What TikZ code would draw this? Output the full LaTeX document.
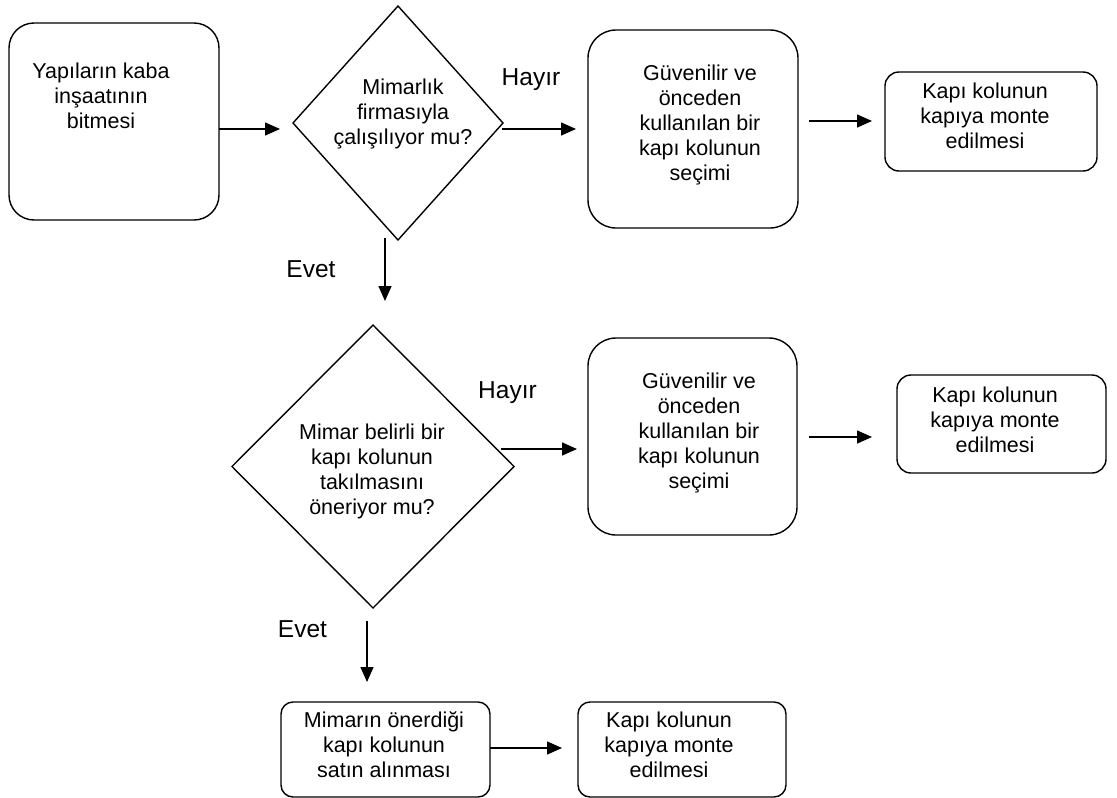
\documentclass[tikz,border=0pt]{standalone}
\usepackage{fontspec}
\setmainfont{Liberation Sans}
\usetikzlibrary{shapes.geometric,arrows.meta}

\tikzset{
  boxtext/.style={align=center, inner sep=0pt, font=\fontsize{21.5pt}{25pt}\selectfont},
  branchlabel/.style={anchor=base, inner sep=0pt, font=\fontsize{24.5pt}{28pt}\selectfont},
  stepbox/.style={draw, line width=1.4pt, rectangle, outer sep=0pt, inner sep=0pt},
  bigbox/.style={stepbox, rounded corners=28pt},
  smallbox/.style={stepbox, rounded corners=14pt},
  decision/.style={draw, line width=1.4pt, diamond, outer sep=0pt, inner sep=0pt},
  arr/.style={line width=1.5pt, -{Triangle[length=15pt,width=13pt]}}
}

\begin{document}
\begin{tikzpicture}[x=1pt, y=-1pt]
\useasboundingbox (0,0) rectangle (1117,798);

% first row
\node[bigbox, rounded corners=25pt, minimum width=210pt, minimum height=197pt] (start) at (114,121.5) {};
\node[boxtext] (starttext) at (101,95.75) {Yapıların kaba\\inşaatının\\bitmesi};

\node[decision, minimum width=210pt, minimum height=234pt] (firm) at (398,123) {};
\node[boxtext] (firmtext) at (403,113.5) {Mimarlık\\firmasıyla\\çalışılıyor mu?};

\node[bigbox, minimum width=210pt, minimum height=198pt] (pickA) at (693,129) {};
\node[boxtext] (pickAtext) at (700,124.75) {Güvenilir ve\\önceden\\kullanılan bir\\kapı kolunun\\seçimi};

\node[smallbox, minimum width=212pt, minimum height=99pt] (mountA) at (991,121.5) {};
\node[boxtext] (mountAtext) at (985,115.75) {Kapı kolunun\\kapıya monte\\edilmesi};

\node[branchlabel] (noA) at (531,85) {Hayır};
\node[branchlabel] (yesA) at (311,277) {Evet};

% second row
\node[decision, minimum width=282pt, minimum height=283pt] (arch) at (373,466.5) {};
\node[boxtext] (archtext) at (372,471.5) {Mimar belirli bir\\kapı kolunun\\takılmasını\\öneriyor mu?};

\node[bigbox, minimum width=209pt, minimum height=197pt] (pickB) at (692.5,436.5) {};
\node[boxtext] (pickBtext) at (699,432.75) {Güvenilir ve\\önceden\\kullanılan bir\\kapı kolunun\\seçimi};

\node[smallbox, minimum width=209pt, minimum height=98pt] (mountB) at (1001.5,424) {};
\node[boxtext] (mountBtext) at (995,419.75) {Kapı kolunun\\kapıya monte\\edilmesi};

\node[branchlabel] (noB) at (507.5,398) {Hayır};
\node[branchlabel] (yesB) at (302.5,637) {Evet};

% third row
\node[smallbox, rounded corners=12pt, minimum width=209pt, minimum height=95pt] (buy) at (385.5,749.5) {};
\node[boxtext] (buytext) at (384,744.75) {Mimarın önerdiği\\kapı kolunun\\satın alınması};

\node[smallbox, rounded corners=12pt, minimum width=208pt, minimum height=95pt] (mountC) at (682,749.5) {};
\node[boxtext] (mountCtext) at (669,744.75) {Kapı kolunun\\kapıya monte\\edilmesi};

% connectors
\draw[arr] ([shift={(0,7.5)}]start.east) -- ([shift={(-13,6)}]firm.west);
\draw[arr] ([shift={(-1,6)}]firm.east) -- ([shift={(-12,0)}]pickA.west);
\draw[arr] ([shift={(11,-8)}]pickA.east) -- ([shift={(-13,-0.5)}]mountA.west);
\draw[arr] ([shift={(-13,-2)}]firm.south) -- ([shift={(12,-24)}]arch.north);
\draw[arr] ([shift={(-13,-17.5)}]arch.east) -- ([shift={(-11,12.5)}]pickB.west);
\draw[arr] ([shift={(12,0.5)}]pickB.east) -- ([shift={(-25,13)}]mountB.west);
\draw[arr] ([shift={(-6,13)}]arch.south) -- ([shift={(-18.5,-20)}]buy.north);
\draw[arr] ([shift={(0,-1.5)}]buy.east) -- ([shift={(-16,-1.5)}]mountC.west);
\end{tikzpicture}
\end{document}
